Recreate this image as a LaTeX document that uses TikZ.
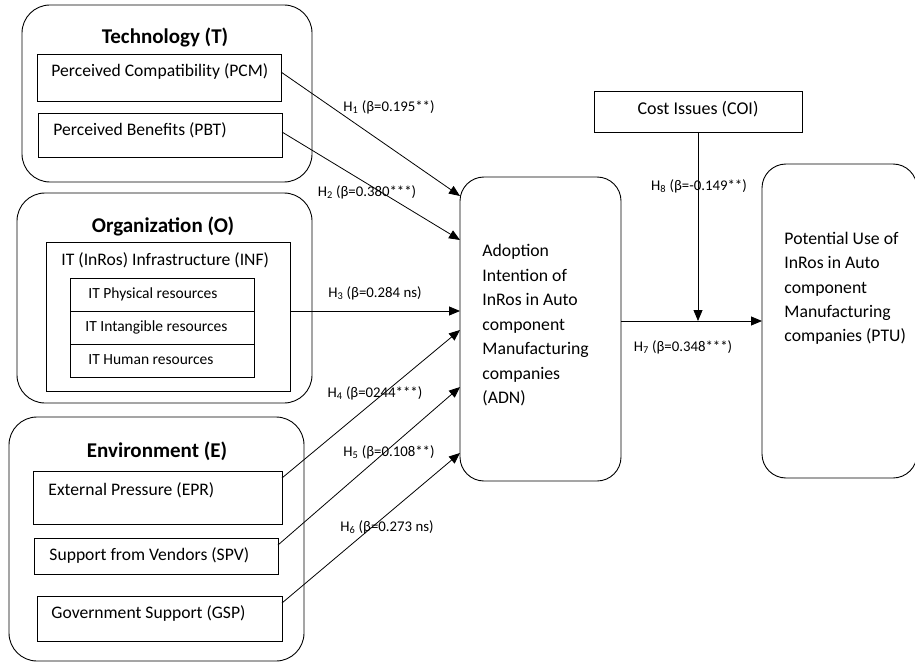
\documentclass[tikz,border=0pt]{standalone}
\usepackage{fontspec}
\setmainfont{Carlito}
\usetikzlibrary{arrows.meta}
\begin{document}
\begin{tikzpicture}[x=1pt,y=-1pt, line width=0.9pt,
  grp/.style={draw, rectangle, rounded corners=28pt, inner sep=0pt, outer sep=0pt},
  box/.style={draw, rectangle, inner sep=0pt, outer sep=0pt},
  rbox/.style={draw, rectangle, rounded corners=24pt, inner sep=0pt, outer sep=0pt},
  txt/.style={font=\fontsize{17.6}{21}\selectfont, inner sep=0pt, anchor=west},
  ttl/.style={font=\bfseries\fontsize{21}{25}\selectfont, inner sep=0pt},
  small/.style={font=\fontsize{15.5}{18}\selectfont, inner sep=0pt, anchor=west},
  hlab/.style={font=\fontsize{14.8}{17}\selectfont, inner sep=0pt},
  arr/.style={-{Triangle[length=11pt,width=9pt]}, line width=0.8pt},
  plain/.style={line width=0.8pt}]
\useasboundingbox (0,0) rectangle (915,663);

% Technology group
\node[grp, minimum width=290pt, minimum height=177pt] (T) at (167,93.5) {};
\node[ttl] (Tt) at (165,37) {Technology (T)};
\node[box, minimum width=244pt, minimum height=47pt] (PCM) at (159,77.5) {};
\node[txt] (PCMt) at (51,71) {Perceived Compatibility (PCM)};
\node[box, minimum width=244pt, minimum height=44pt] (PBT) at (160,135) {};
\node[txt] (PBTt) at (53,130) {Perceived Benefits (PBT)};

% Organization group
\node[grp, minimum width=295pt, minimum height=210pt] (O) at (164.5,298) {};
\node[ttl] (Ot) at (163,226) {Organization (O)};
\node[box, minimum width=244pt, minimum height=149pt] (INF) at (168,316.5) {};
\node[txt] (INFt) at (61,260) {IT (InRos) Infrastructure (INF)};
\node[box, minimum width=184pt, minimum height=33pt] (R1) at (162,294.5) {};
\node[box, minimum width=184pt, minimum height=33pt] (R2) at (162,327.5) {};
\node[box, minimum width=184pt, minimum height=33pt] (R3) at (162,360.5) {};
\node[small] (R1t) at (88,294) {IT Physical resources};
\node[small] (R2t) at (85,327) {IT Intangible resources};
\node[small] (R3t) at (88,360) {IT Human resources};

% Environment group
\node[grp, minimum width=295pt, minimum height=244pt] (E) at (156.5,539) {};
\node[ttl] (Et) at (157,451) {Environment (E)};
\node[box, minimum width=249pt, minimum height=53pt] (EPR) at (157.5,497.5) {};
\node[txt] (EPRt) at (48,490) {External Pressure (EPR)};
\node[box, minimum width=244pt, minimum height=36pt] (SPV) at (156,556) {};
\node[txt] (SPVt) at (49,555) {Support from Vendors (SPV)};
\node[box, minimum width=245pt, minimum height=45pt] (GSP) at (159.5,618.5) {};
\node[txt] (GSPt) at (51,613) {Government Support (GSP)};

% ADN
\node[rbox, minimum width=161pt, minimum height=304pt] (ADN) at (540.5,329) {};
\node[font=\fontsize{17.7}{24.5}\selectfont, inner sep=0pt, align=left, anchor=north west] (ADNt) at (482,244)
  {Adoption\\Intention of\\InRos in Auto\\component\\Manufacturing\\companies\\(ADN)};

% COI
\node[box, minimum width=208pt, minimum height=41pt] (COI) at (698,111.5) {};
\node[font=\fontsize{18}{21}\selectfont, inner sep=0pt] (COIt) at (698,109) {Cost Issues (COI)};

% PTU
\node[rbox, minimum width=155pt, minimum height=314pt] (PTU) at (839.5,321) {};
\node[font=\fontsize{17.7}{24.2}\selectfont, inner sep=0pt, align=left, anchor=north west] (PTUt) at (784,232)
  {Potential Use of\\InRos in Auto\\component\\Manufacturing\\companies (PTU)};

% connectors
\draw[arr] ([yshift=5.5pt]PCM.east) -- ([yshift=133pt]ADN.west);
\draw[arr] ([yshift=3pt]PBT.east) -- ([yshift=89pt]ADN.west);
\draw[arr] ([yshift=5.5pt]INF.east) -- ([yshift=18pt]ADN.west);
\draw[arr] ([yshift=19.5pt]EPR.east) -- ([yshift=-1pt]ADN.west);
\draw[arr] ([yshift=11pt]SPV.east) -- ([yshift=-58pt]ADN.west);
\draw[arr] ([yshift=15.5pt]GSP.east) -- ([yshift=-124pt]ADN.west);
\draw[arr] ([yshift=8pt]ADN.east) -- (PTU.west);
\coordinate (M) at (COI.south |- PTU.west);
\draw[arr] (COI.south) -- (M);

% labels
\node[hlab] (L1) at (389,107) {H\textsubscript{1} (β=0.195**)};
\node[hlab] (L2) at (367,192) {H\textsubscript{2} (β=0.380***)};
\node[hlab] (L3) at (375,293) {H\textsubscript{3} (β=0.284 ns)};
\node[hlab] (L4) at (375,393) {H\textsubscript{4} (β=0244***)};
\node[hlab] (L5) at (389,452) {H\textsubscript{5} (β=0.108**)};
\node[hlab] (L6) at (387,527) {H\textsubscript{6} (β=0.273 ns)};
\node[hlab] (L7) at (683,347) {H\textsubscript{7} (β=0.348***)};
\node[hlab] (L8) at (699,186) {H\textsubscript{8} (β=-0.149**)};
\end{tikzpicture}
\end{document}
